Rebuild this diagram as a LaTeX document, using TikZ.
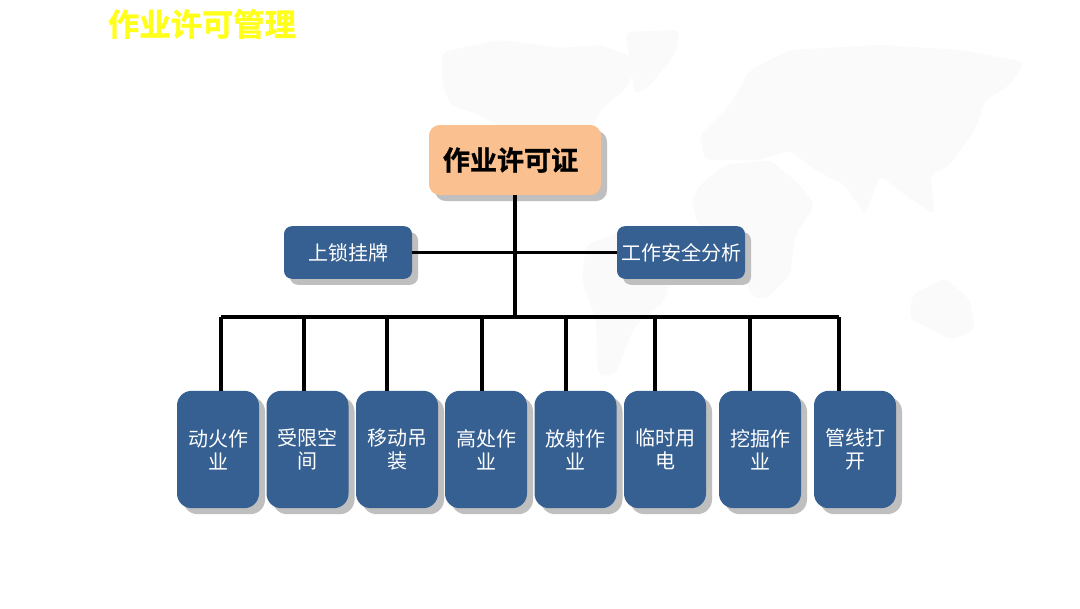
\documentclass[tikz,border=0pt]{standalone}
\usepackage{fontspec}
\setmainfont{Noto Sans CJK SC}
\newfontfamily\heavyfont[FakeBold=1.2]{Noto Sans CJK SC Bold}
\usetikzlibrary{shadows}
\definecolor{boxblue}{HTML}{366092}
\definecolor{peach}{HTML}{FAC090}
\definecolor{shadowgrey}{HTML}{BFBFBF}
\definecolor{mapgrey}{HTML}{FAFAFA}
\definecolor{titleyellow}{HTML}{FFFF1A}
\tikzset{
  box/.style={rectangle,draw=none,inner sep=0pt,align=center,
    drop shadow={shadow xshift=4.5pt,shadow yshift=-4.5pt,fill=shadowgrey,opacity=1}},
  bluewide/.style={box,fill=boxblue,text=white,rounded corners=6pt,minimum width=96pt,minimum height=39.5pt,font=\fontsize{15}{17}\selectfont},
  bluetall/.style={box,fill=boxblue,text=white,rounded corners=11pt,minimum width=61.5pt,minimum height=88pt,font=\fontsize{15}{17.25}\selectfont},
  peachbox/.style={box,fill=peach,text=black,rounded corners=8pt,minimum width=129pt,minimum height=52.5pt,font=\heavyfont\fontsize{20.3}{24}\selectfont},
  conn/.style={draw=black,line width=2.3pt},
  land/.style={fill=mapgrey,draw=none,rounded corners=5pt}
}
\begin{document}
\begin{tikzpicture}[x=0.75pt,y=-0.75pt]
\useasboundingbox[fill=white] (0,0) rectangle (1080,608);
% faint world map
\fill[land] (442,52)--(500,40)--(560,48)--(600,45)--(640,60)--(625,90)--(600,110)--(590,135)--(570,150)--(555,175)--(545,165)--(520,150)--(505,130)--(480,115)--(450,105)--(442,80)--cycle;
\fill[land] (625,32)--(680,30)--(675,55)--(650,85)--(635,95)--(630,60)--cycle;
\fill[land] (586,245)--(620,232)--(650,250)--(672,268)--(665,300)--(635,325)--(615,375)--(598,375)--(596,320)--(582,280)--cycle;
\fill[land] (700,185)--(725,165)--(770,160)--(800,185)--(815,205)--(795,235)--(790,275)--(765,300)--(750,295)--(740,250)--(725,235)--(698,225)--(692,200)--cycle;
\fill[land] (730,105)--(750,70)--(790,50)--(880,45)--(960,50)--(1025,62)--(1010,85)--(985,100)--(975,130)--(950,165)--(930,175)--(935,215)--(905,195)--(880,175)--(865,215)--(845,185)--(815,170)--(790,150)--(760,160)--(705,160)--(700,135)--cycle;
\fill[land] (912,295)--(945,278)--(970,300)--(975,330)--(950,340)--(925,325)--(910,320)--cycle;
% title
\node[inner sep=0pt,text=titleyellow,font=\heavyfont\fontsize{23.5}{26}\selectfont] (title) at (202,24) {作业许可管理};
% nodes
\node[peachbox] (top) at (515,160) {作业许可证\hspace*{6.75pt}};
\node[bluewide] (lock) at (348,252.5) {\raisebox{-0.8pt}{上锁挂牌}};
\node[bluewide] (jsa) at (681,252.5) {\raisebox{-0.8pt}{工作安全分析}};
\node[bluetall] (n1) at (218,449.5) {动火作\\业};
\node[bluetall] (n2) at (307.5,449.5) {受限空\\间};
\node[bluetall] (n3) at (397,449.5) {移动吊\\装};
\node[bluetall] (n4) at (486,449.5) {高处作\\业};
\node[bluetall] (n5) at (575.5,449.5) {放射作\\业};
\node[bluetall] (n6) at (665,449.5) {临时用\\电};
\node[bluetall] (n7) at (760,449.5) {挖掘作\\业};
\node[bluetall] (n8) at (855,449.5) {管线打\\开};
% bus coordinates
\coordinate (b1) at (221,317);
\coordinate (b2) at (304,317);
\coordinate (b3) at (387,317);
\coordinate (b4) at (482,317);
\coordinate (b5) at (566,317);
\coordinate (b6) at (655,317);
\coordinate (b7) at (750,317);
\coordinate (b8) at (839,317);
\coordinate (trunk) at (515,317);
% connectors
\draw[conn] (top.south) -- (trunk);
\draw[conn] (lock.east) -- (jsa.west);
\draw[conn,line cap=square] (b1) -- (b8);
\foreach \i in {1,...,8} {\draw[conn] (b\i) -- (b\i |- n\i.north);}
\end{tikzpicture}
\end{document}
